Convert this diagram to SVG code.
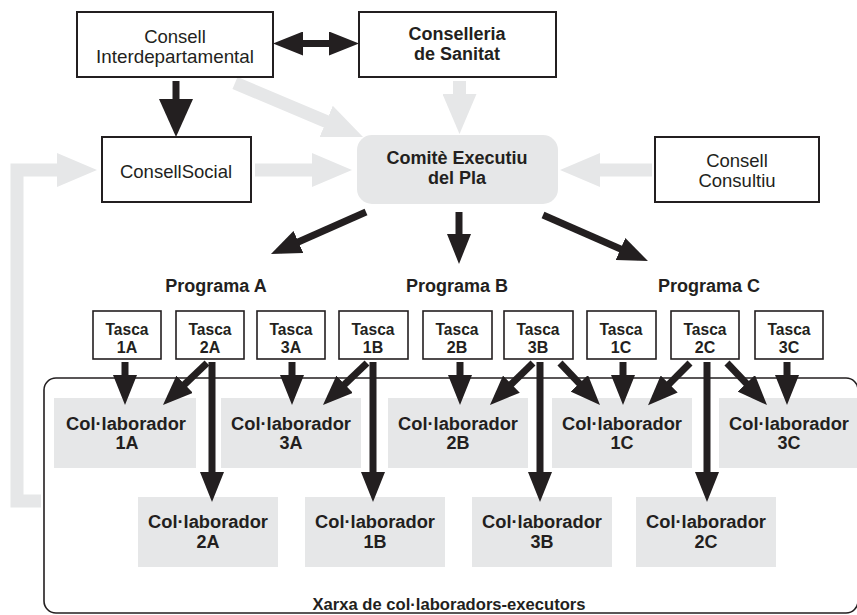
<svg xmlns="http://www.w3.org/2000/svg" width="857" height="615" viewBox="0 0 857 615">
<style>
text{font-family:"Liberation Sans",Arial,sans-serif;fill:#231f20;text-anchor:middle}
.b{font-weight:bold}
.box{fill:#fff;stroke:#231f20;stroke-width:2}
.tbox{fill:#fff;stroke:#231f20;stroke-width:1.6}
.gbox{fill:#e6e7e8;stroke:none}
.bl{stroke:#231f20;stroke-width:7;fill:none}
.gr{stroke:#e6e7e8;stroke-width:13;fill:none}
.t18{font-size:18.5px}
.t16{font-size:16px;font-weight:bold}
.c18{font-size:18px;font-weight:bold}
</style>
<defs>
<marker id="ah" markerUnits="userSpaceOnUse" markerWidth="30" markerHeight="24" refX="20" refY="12" orient="auto-start-reverse" viewBox="0 0 30 24"><path d="M0,0L30,12L0,24z" fill="#231f20"/></marker>
<marker id="bh" markerUnits="userSpaceOnUse" markerWidth="38" markerHeight="34" refX="22" refY="17" orient="auto" viewBox="0 0 38 34"><path d="M0,0L38,17L0,34z" fill="#231f20"/></marker>
<marker id="gh" markerUnits="userSpaceOnUse" markerWidth="40" markerHeight="34" refX="20" refY="17" orient="auto" viewBox="0 0 40 34"><path d="M0,0L40,17L0,34z" fill="#e6e7e8"/></marker>
</defs>

<g id="xarxa">
<rect x="44" y="378" width="814" height="235" rx="12" fill="none" stroke="#231f20" stroke-width="1.6"/>
<text class="b" x="449" y="610" font-size="16.5" textLength="273" lengthAdjust="spacingAndGlyphs">Xarxa de col·laboradors-executors</text>
</g>

<g id="connectors-gray">
<path class="gr" d="M235,83L344.6,129.2" marker-end="url(#gh)"/>
<path class="gr" d="M459.5,81L459.5,114" marker-end="url(#gh)"/>
<path class="gr" d="M255,170L332,170" marker-end="url(#gh)"/>
<path class="gr" d="M652,170L580,170" marker-end="url(#gh)"/>
<path class="gr" stroke-width="12" stroke-linejoin="miter" d="M41,501H17V170H77" marker-end="url(#gh)"/>
</g>

<g id="consell-interdepartamental"><rect class="box" x="77" y="12" width="196" height="65"/><text class="t18" x="175" y="43">Consell</text><text class="t18" x="175" y="63" textLength="158" lengthAdjust="spacingAndGlyphs">Interdepartamental</text></g>
<g id="conselleria-sanitat"><rect class="box" x="359" y="12" width="197" height="65"/><text class="c18" x="457" y="40">Conselleria</text><text class="c18" x="457" y="60">de Sanitat</text></g>
<g id="consell-social"><rect class="box" x="102" y="137" width="149" height="65"/><text class="t18" x="176" y="178">ConsellSocial</text></g>
<g id="comite-executiu"><rect class="gbox" x="357" y="135" width="201" height="69" rx="15"/><text class="c18" x="457" y="164">Comitè Executiu</text><text class="c18" x="457" y="184">del Pla</text></g>
<g id="consell-consultiu"><rect class="box" x="655" y="137" width="164" height="65"/><text class="t18" x="737" y="167">Consell</text><text class="t18" x="737" y="187">Consultiu</text></g>

<g id="programa-a"><text class="c18" x="216" y="292">Programa A</text></g>
<g id="programa-b"><text class="c18" x="457" y="292">Programa B</text></g>
<g id="programa-c"><text class="c18" x="709" y="292">Programa C</text></g>

<g id="tasca-1a"><rect class="tbox" x="93" y="311" width="68" height="48"/><text class="t16" x="127" y="335" textLength="43" lengthAdjust="spacingAndGlyphs">Tasca</text><text class="t16" x="127" y="353">1A</text></g>
<g id="tasca-2a"><rect class="tbox" x="176" y="311" width="68" height="48"/><text class="t16" x="210" y="335" textLength="43" lengthAdjust="spacingAndGlyphs">Tasca</text><text class="t16" x="210" y="353">2A</text></g>
<g id="tasca-3a"><rect class="tbox" x="257" y="311" width="68" height="48"/><text class="t16" x="291" y="335" textLength="43" lengthAdjust="spacingAndGlyphs">Tasca</text><text class="t16" x="291" y="353">3A</text></g>
<g id="tasca-1b"><rect class="tbox" x="339" y="311" width="69" height="48"/><text class="t16" x="373" y="335" textLength="43" lengthAdjust="spacingAndGlyphs">Tasca</text><text class="t16" x="373" y="353">1B</text></g>
<g id="tasca-2b"><rect class="tbox" x="423" y="311" width="69" height="48"/><text class="t16" x="457" y="335" textLength="43" lengthAdjust="spacingAndGlyphs">Tasca</text><text class="t16" x="457" y="353">2B</text></g>
<g id="tasca-3b"><rect class="tbox" x="504" y="311" width="69" height="48"/><text class="t16" x="538" y="335" textLength="43" lengthAdjust="spacingAndGlyphs">Tasca</text><text class="t16" x="538" y="353">3B</text></g>
<g id="tasca-1c"><rect class="tbox" x="587" y="311" width="69" height="48"/><text class="t16" x="621" y="335" textLength="43" lengthAdjust="spacingAndGlyphs">Tasca</text><text class="t16" x="621" y="353">1C</text></g>
<g id="tasca-2c"><rect class="tbox" x="671" y="311" width="68" height="48"/><text class="t16" x="705" y="335" textLength="43" lengthAdjust="spacingAndGlyphs">Tasca</text><text class="t16" x="705" y="353">2C</text></g>
<g id="tasca-3c"><rect class="tbox" x="755" y="311" width="68" height="48"/><text class="t16" x="789" y="335" textLength="43" lengthAdjust="spacingAndGlyphs">Tasca</text><text class="t16" x="789" y="353">3C</text></g>

<g id="col-1a"><rect class="gbox" x="54" y="398" width="142" height="70"/><text class="c18" x="126" y="430" textLength="120" lengthAdjust="spacingAndGlyphs">Col·laborador</text><text class="c18" x="127" y="449">1A</text></g>
<g id="col-3a"><rect class="gbox" x="221" y="398" width="140" height="70"/><text class="c18" x="291" y="430" textLength="120" lengthAdjust="spacingAndGlyphs">Col·laborador</text><text class="c18" x="291" y="449">3A</text></g>
<g id="col-2b"><rect class="gbox" x="388" y="398" width="140" height="70"/><text class="c18" x="458" y="430" textLength="120" lengthAdjust="spacingAndGlyphs">Col·laborador</text><text class="c18" x="458" y="449">2B</text></g>
<g id="col-1c"><rect class="gbox" x="552" y="398" width="140" height="70"/><text class="c18" x="622" y="430" textLength="120" lengthAdjust="spacingAndGlyphs">Col·laborador</text><text class="c18" x="622" y="449">1C</text></g>
<g id="col-3c"><rect class="gbox" x="719" y="398" width="140" height="70"/><text class="c18" x="789" y="430" textLength="120" lengthAdjust="spacingAndGlyphs">Col·laborador</text><text class="c18" x="789" y="449">3C</text></g>
<g id="col-2a"><rect class="gbox" x="138" y="497" width="140" height="70"/><text class="c18" x="208" y="528" textLength="120" lengthAdjust="spacingAndGlyphs">Col·laborador</text><text class="c18" x="208" y="548">2A</text></g>
<g id="col-1b"><rect class="gbox" x="305" y="497" width="140" height="70"/><text class="c18" x="375" y="528" textLength="120" lengthAdjust="spacingAndGlyphs">Col·laborador</text><text class="c18" x="375" y="548">1B</text></g>
<g id="col-3b"><rect class="gbox" x="472" y="497" width="140" height="70"/><text class="c18" x="542" y="528" textLength="120" lengthAdjust="spacingAndGlyphs">Col·laborador</text><text class="c18" x="542" y="548">3B</text></g>
<g id="col-2c"><rect class="gbox" x="636" y="497" width="140" height="70"/><text class="c18" x="706" y="528" textLength="120" lengthAdjust="spacingAndGlyphs">Col·laborador</text><text class="c18" x="706" y="548">2C</text></g>

<g id="connectors">
<path class="bl" stroke-width="8" d="M283,43.5L349,43.5" marker-start="url(#ah)" marker-end="url(#ah)"/>
<path class="bl" stroke-width="12" d="M176,81L176,121" marker-end="url(#bh)"/>
<path class="bl" d="M366,212L280.1,250" marker-end="url(#ah)"/>
<path class="bl" d="M459,212L459,254" marker-end="url(#ah)"/>
<path class="bl" d="M543,215L638.8,257" marker-end="url(#ah)"/>

<path class="bl" d="M125,362V395" marker-end="url(#ah)"/>
<path class="bl" d="M207,363L170.2,398.1" marker-end="url(#ah)"/>
<path class="bl" d="M212,362V492" marker-end="url(#ah)"/>
<path class="bl" d="M292,362V395" marker-end="url(#ah)"/>
<path class="bl" d="M367,363L330.2,398.1" marker-end="url(#ah)"/>
<path class="bl" d="M373,362V492" marker-end="url(#ah)"/>
<path class="bl" d="M460,362V395" marker-end="url(#ah)"/>
<path class="bl" d="M533,363L497.1,398.1" marker-end="url(#ah)"/>
<path class="bl" d="M540,362V492" marker-end="url(#ah)"/>
<path class="bl" d="M560,363L593.1,397.8" marker-end="url(#ah)"/>
<path class="bl" d="M623,362V395" marker-end="url(#ah)"/>
<path class="bl" d="M690,363L655.1,398.1" marker-end="url(#ah)"/>
<path class="bl" d="M707,362V492" marker-end="url(#ah)"/>
<path class="bl" d="M727,363L760.1,397.8" marker-end="url(#ah)"/>
<path class="bl" d="M787,362V395" marker-end="url(#ah)"/>
</g>
</svg>
